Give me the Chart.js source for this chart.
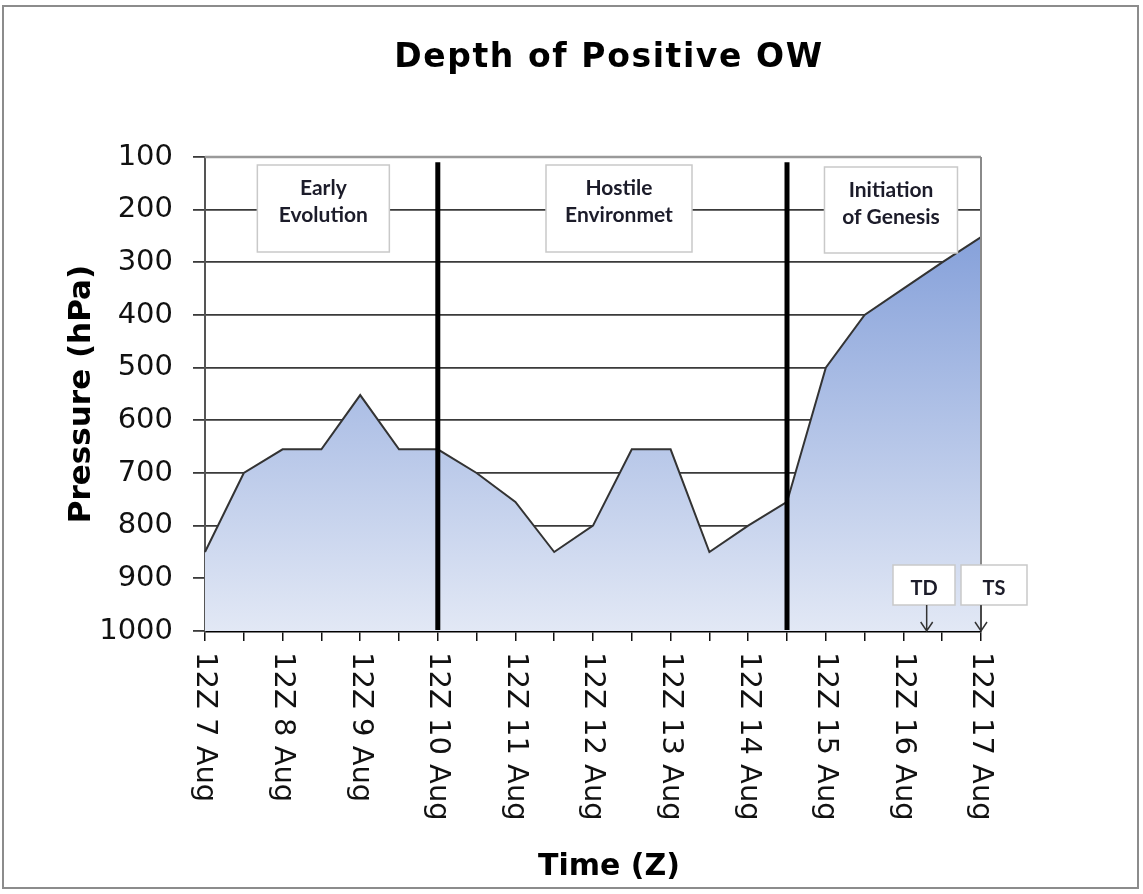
<!DOCTYPE html>
<html>
<head>
<meta charset="utf-8">
<script src="https://cdn.jsdelivr.net/npm/chart.js@4"></script>
<style>
  html, body { margin: 0; padding: 0; background: #ffffff; }
  #wrap { width: 1143px; height: 894px; position: relative; }
</style>
</head>
<body>
<div id="wrap"><canvas id="c" width="1143" height="894"></canvas></div>
<script>
// ---- data ----
const categories = [
  '12Z 7 Aug', '00Z 8 Aug', '12Z 8 Aug', '00Z 9 Aug', '12Z 9 Aug', '00Z 10 Aug',
  '12Z 10 Aug', '00Z 11 Aug', '12Z 11 Aug', '00Z 12 Aug', '12Z 12 Aug', '00Z 13 Aug',
  '12Z 13 Aug', '00Z 14 Aug', '12Z 14 Aug', '00Z 15 Aug', '12Z 15 Aug', '00Z 16 Aug',
  '12Z 16 Aug', '00Z 17 Aug', '12Z 17 Aug'
];
const depthHPa = [850, 700, 655, 655, 552, 655, 655, 700, 755, 850, 800, 655, 655, 850, 800, 755, 500, 400, 350, 300, 252];
const yTickValues = [100, 200, 300, 400, 500, 600, 700, 800, 900, 1000];
const phaseBoundaries = ['12Z 10 Aug', '00Z 15 Aug'];
const phaseNames = [['Early', 'Evolution'], ['Hostile', 'Environmet'], ['Initiation', 'of Genesis']];
const stageNames = ['TD', 'TS'];
const stageTimes = [18.6, 20]; // category index (TD ~ late 16 Aug, TS 12Z 17 Aug)

const chartTitle = 'Depth of Positive OW';
const xTitle = 'Time (Z)';
const yTitle = 'Pressure (hPa)';

// ---- drawing helpers ----
const overlay = {
  id: 'overlay',
  afterDatasetsDraw(chart) {
    const ctx = chart.ctx;
    const xs = chart.scales.x, ys = chart.scales.y, ca = chart.chartArea;
    ctx.save();
    // top and right plot border
    ctx.strokeStyle = '#9a9a9a';
    ctx.lineWidth = 2.5;
    ctx.beginPath();
    ctx.moveTo(ca.left, ca.top); ctx.lineTo(ca.right, ca.top);
    ctx.stroke();
    ctx.strokeStyle = '#8a8a8a';
    ctx.lineWidth = 2;
    ctx.beginPath();
    ctx.moveTo(ca.right, ca.top); ctx.lineTo(ca.right, ca.bottom);
    ctx.stroke();

    // phase boundary lines
    ctx.strokeStyle = '#000';
    ctx.lineWidth = 5;
    phaseBoundaries.forEach(lbl => {
      const x = xs.getPixelForValue(categories.indexOf(lbl));
      ctx.beginPath();
      ctx.moveTo(x, ys.getPixelForValue(110));
      ctx.lineTo(x, ca.bottom - 1);
      ctx.stroke();
    });

    // phase label boxes
    const boxes = [
      {c: 3.05, w: 132, top: 165, bot: 252},
      {c: 10.67, w: 146, top: 165, bot: 252},
      {c: 17.68, w: 133, top: 167, bot: 253}
    ];
    ctx.font = 'bold 21px Lato';
    ctx.textAlign = 'center';
    ctx.textBaseline = 'alphabetic';
    boxes.forEach((b, i) => {
      const cx = xs.getPixelForValue(b.c);
      ctx.fillStyle = '#fff';
      ctx.fillRect(cx - b.w / 2, b.top, b.w, b.bot - b.top);
      ctx.strokeStyle = '#c9c9c9';
      ctx.lineWidth = 1.5;
      ctx.strokeRect(cx - b.w / 2, b.top, b.w, b.bot - b.top);
      ctx.fillStyle = '#1c1c2a';
      ctx.fillText(phaseNames[i][0], cx, b.top + 30);
      ctx.fillText(phaseNames[i][1], cx, b.top + 57);
    });

    // TD / TS boxes with arrows
    const sBoxes = [{l: 893, r: 955}, {l: 961, r: 1027}];
    ctx.font = 'bold 20px Lato';
    stageNames.forEach((name, i) => {
      const b = sBoxes[i];
      const top = 565, bot = 605;
      ctx.fillStyle = '#fff';
      ctx.fillRect(b.l, top, b.r - b.l, bot - top);
      ctx.strokeStyle = '#c9c9c9';
      ctx.lineWidth = 1.5;
      ctx.strokeRect(b.l, top, b.r - b.l, bot - top);
      ctx.fillStyle = '#1c1c2a';
      ctx.fillText(name, (b.l + b.r) / 2, 595);
      const ax = xs.getPixelForValue(stageTimes[i]);
      ctx.strokeStyle = '#333';
      ctx.lineWidth = 1.5;
      ctx.beginPath();
      ctx.moveTo(ax, bot); ctx.lineTo(ax, ca.bottom);
      ctx.moveTo(ax - 6, ca.bottom - 9); ctx.lineTo(ax, ca.bottom); ctx.lineTo(ax + 6, ca.bottom - 9);
      ctx.stroke();
    });

    // x tick labels (rotated clockwise, every 12Z)
    ctx.fillStyle = '#111';
    ctx.font = '29px "DejaVu Sans"';
    ctx.textAlign = 'left';
    ctx.textBaseline = 'middle';
    categories.forEach((lbl, i) => {
      if (!lbl.startsWith('12Z')) return;
      const x = xs.getPixelForValue(i);
      ctx.save();
      ctx.translate(x, ca.bottom + 21);
      ctx.rotate(Math.PI / 2);
      ctx.fillText(lbl, 0, 0);
      ctx.restore();
    });

    // titles
    ctx.fillStyle = '#000';
    ctx.textAlign = 'center';
    ctx.textBaseline = 'alphabetic';
    ctx.font = 'bold 33px "DejaVu Sans"';
    ctx.letterSpacing = '1.6px';
    ctx.fillText(chartTitle, 609, 67);
    ctx.letterSpacing = '0px';
    ctx.font = 'bold 30px "DejaVu Sans"';
    ctx.fillText(xTitle, 609, 875);

    // outer frame
    ctx.strokeStyle = '#8c8c8c';
    ctx.lineWidth = 2;
    ctx.strokeRect(3, 6, 1135, 882);
    ctx.restore();
  }
};

new Chart(document.getElementById('c'), {
  type: 'line',
  data: {
    labels: categories,
    datasets: [{
      data: depthHPa,
      borderColor: '#333333',
      borderWidth: 2,
      pointRadius: 0,
      tension: 0,
      fill: {value: 1000},
      backgroundColor: (context) => {
        const chart = context.chart;
        const ca = chart.chartArea;
        if (!ca) return '#b9c8e9';
        const g = chart.ctx.createLinearGradient(0, chart.scales.y.getPixelForValue(250), 0, ca.bottom);
        g.addColorStop(0, '#86a1da');
        g.addColorStop(1, '#e2e8f5');
        return g;
      }
    }]
  },
  options: {
    responsive: false,
    animation: false,
    devicePixelRatio: 1,
    layout: { padding: { left: 10, top: 157, right: 162, bottom: 0 } },
    plugins: { legend: { display: false }, tooltip: { enabled: false }, title: { display: false } },
    scales: {
      x: {
        type: 'category',
        offset: false,
        grid: { drawOnChartArea: false, drawTicks: true, tickLength: 10, color: '#111', lineWidth: 1.5 },
        border: { display: true, color: '#000', width: 2.5 },
        ticks: { display: false, autoSkip: false },
        afterFit: (s) => { s.height = 263; }
      },
      y: {
        type: 'linear',
        reverse: true,
        min: 100,
        max: 1000,
        afterBuildTicks: (s) => { s.ticks = yTickValues.map(v => ({value: v})); },
        ticks: {
          color: '#111',
          font: { family: 'DejaVu Sans', size: 29 },
          padding: 20,
          callback: (v) => String(v)
        },
        grid: {
          color: (c) => (c.tick && c.tick.value === 100) ? '#9a9a9a' : '#3a3a3a',
          tickColor: '#3a3a3a',
          lineWidth: 1.8,
          tickLength: 12
        },
        border: { display: true, color: '#555', width: 2 },
        title: {
          display: true,
          text: yTitle,
          color: '#000',
          font: { family: 'DejaVu Sans', size: 31, weight: 'bold' },
          padding: { top: 53, bottom: 0 }
        },
        afterFit: (s) => { s.width = 195; }
      }
    }
  },
  plugins: [overlay]
});
</script>
</body>
</html>
